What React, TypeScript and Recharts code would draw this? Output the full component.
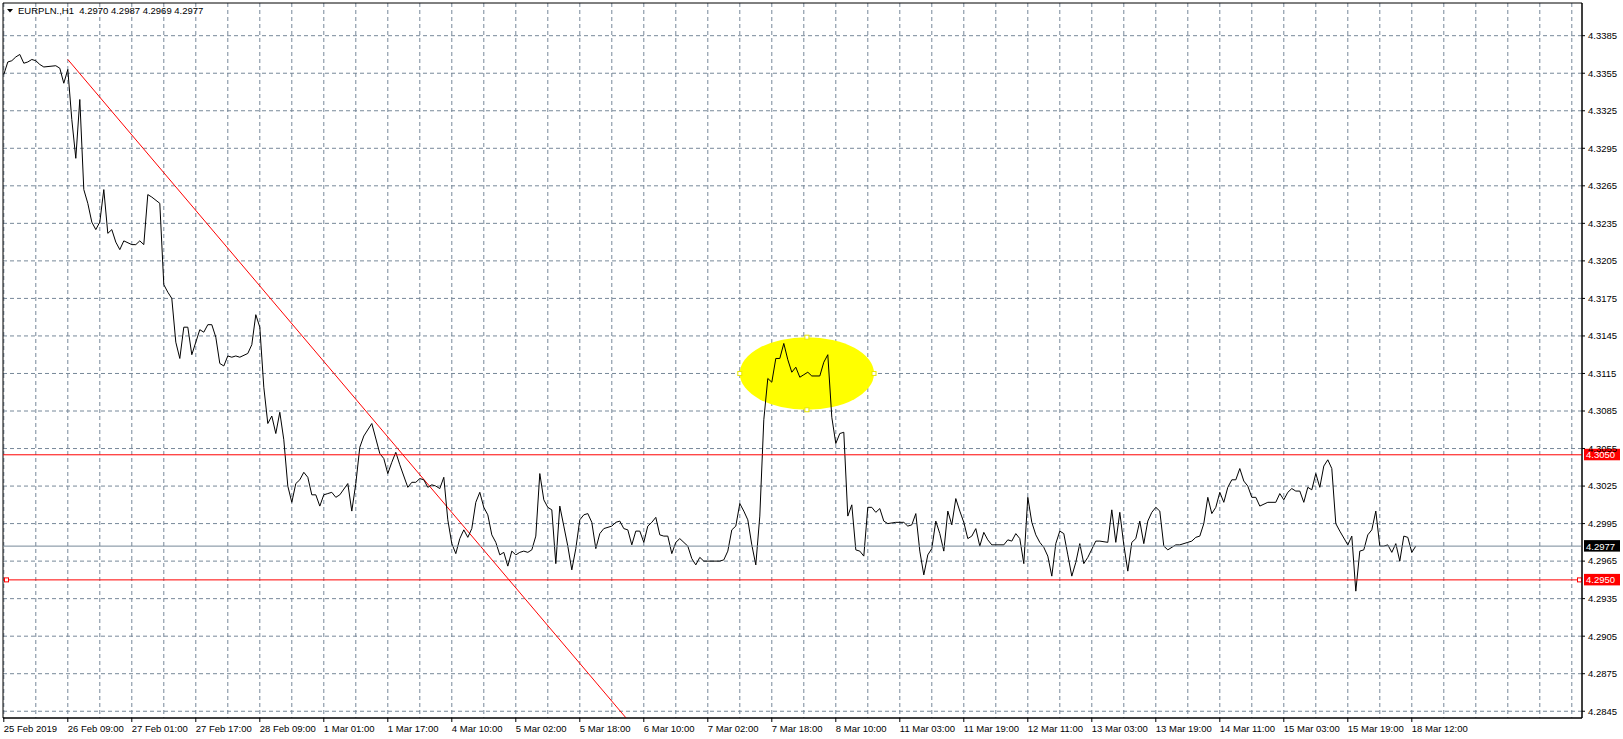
import {
  CartesianGrid,
  Line,
  LineChart,
  ReferenceArea,
  ReferenceLine,
  XAxis,
  YAxis,
} from "recharts";

const FONT = "'Liberation Sans', Arial, sans-serif";

const title = "EURPLN.,H1  4.2970 4.2987 4.2969 4.2977";

// bar index (H1 bars from 25 Feb 17:00) and close price at each vertex of the line
const bars = [
  0, 1, 2, 3, 4, 5, 6, 7, 8, 9, 10, 13, 14, 15, 16, 17, 18, 19, 20, 21,
  22, 23, 24, 25, 26, 27, 28, 29, 30, 32, 33, 34, 35, 36, 37, 39, 40, 41, 42, 43,
  44, 45, 46, 47, 49, 50, 51, 52, 53, 54, 55, 56, 57, 58, 59, 61, 62, 63, 64, 65,
  66, 67, 68, 69, 70, 71, 72, 73, 74, 75, 76, 77, 78, 79, 80, 81, 82, 83, 84, 86,
  87, 88, 89, 90, 92, 94, 95, 96, 97, 98, 99, 101, 102, 103, 104, 105, 106, 107, 108, 109,
  110, 111, 112, 113, 114, 115, 116, 117, 118, 119, 120, 121, 122, 123, 124, 125, 126, 127, 128, 129,
  130, 131, 132, 133, 134, 135, 136, 137, 138, 139, 140, 141, 142, 143, 144, 145, 146, 147, 148, 149,
  150, 152, 153, 154, 155, 156, 157, 158, 159, 160, 161, 162, 163, 164, 165, 166, 167, 168, 169, 171,
  172, 173, 174, 175, 179, 180, 181, 182, 183, 184, 185, 186, 187, 188, 189, 190, 191, 192, 193, 194,
  195, 196, 197, 198, 199, 200, 201, 202, 204, 205, 206, 207, 208, 209, 210, 211, 212, 213, 214, 215,
  216, 217, 218, 219, 220, 221, 223, 225, 226, 227, 228, 229, 230, 231, 232, 233, 234, 235, 236, 237,
  238, 239, 240, 241, 242, 243, 244, 245, 246, 247, 250, 251, 252, 253, 254, 255, 256, 257, 258, 259,
  260, 261, 262, 263, 264, 265, 266, 267, 268, 269, 270, 271, 273, 274, 276, 277, 278, 279, 280, 281,
  282, 283, 284, 285, 286, 287, 288, 289, 290, 291, 293, 294, 296, 297, 298, 299, 300, 301, 302, 303,
  304, 305, 306, 307, 308, 309, 310, 311, 312, 313, 314, 316, 318, 319, 320, 321, 322, 323, 324, 325,
  326, 327, 328, 329, 330, 331, 332, 333, 334, 336, 337, 338, 339, 340, 341, 342, 343, 344, 345, 346,
  347, 348, 349, 350, 351, 352, 353,
];

const closes = [
  4.3354, 4.3364, 4.3365, 4.3368, 4.337, 4.3363, 4.3364, 4.3366, 4.3365, 4.3362, 4.336, 4.3361, 4.3359, 4.3347, 4.3358, 4.3318, 4.3287, 4.3334, 4.3262, 4.3251,
  4.3236, 4.323, 4.3236, 4.3262, 4.3227, 4.323, 4.322, 4.3214, 4.3221, 4.3218, 4.3218, 4.3221, 4.3218, 4.3258, 4.3256, 4.3251, 4.3186, 4.318, 4.3175, 4.314,
  4.3127, 4.3152, 4.3152, 4.313, 4.315, 4.3148, 4.3154, 4.3154, 4.3144, 4.3123, 4.3121, 4.3129, 4.3128, 4.3129, 4.3128, 4.3131, 4.3138, 4.3162, 4.3152, 4.3104,
  4.3075, 4.3081, 4.3067, 4.3084, 4.3062, 4.3025, 4.3012, 4.3027, 4.303, 4.3036, 4.3032, 4.3018, 4.3018, 4.3009, 4.3018, 4.3019, 4.302, 4.3016, 4.3018, 4.3027,
  4.3005, 4.3027, 4.3056, 4.3065, 4.3075, 4.3051, 4.3047, 4.3035, 4.3044, 4.3052, 4.3042, 4.3024, 4.3028, 4.3028, 4.3031, 4.303, 4.3024, 4.3026, 4.3025, 4.3023,
  4.3032, 4.2998, 4.2979, 4.2971, 4.2983, 4.299, 4.2984, 4.2991, 4.3012, 4.302, 4.3008, 4.3002, 4.2986, 4.298, 4.297, 4.2972, 4.2961, 4.2973, 4.297, 4.2972,
  4.2973, 4.2972, 4.2974, 4.2985, 4.3035, 4.3014, 4.3008, 4.3006, 4.2963, 4.3009, 4.2993, 4.2977, 4.2958, 4.2975, 4.2998, 4.3002, 4.3003, 4.2996, 4.2975, 4.2987,
  4.2991, 4.2993, 4.2996, 4.2997, 4.2991, 4.299, 4.2978, 4.2989, 4.2989, 4.298, 4.2993, 4.2996, 4.3, 4.2986, 4.2985, 4.2985, 4.2971, 4.298, 4.2983, 4.2977,
  4.2967, 4.2962, 4.2968, 4.2965, 4.2965, 4.2966, 4.2973, 4.299, 4.2993, 4.3011, 4.3005, 4.2998, 4.2978, 4.2962, 4.3001, 4.3078, 4.3111, 4.3108, 4.3127, 4.3127,
  4.3139, 4.3126, 4.3116, 4.312, 4.3112, 4.3114, 4.3116, 4.3113, 4.3113, 4.3124, 4.313, 4.308, 4.3059, 4.3067, 4.3068, 4.3001, 4.301, 4.2974, 4.2973, 4.2969,
  4.3008, 4.3008, 4.3004, 4.3007, 4.2997, 4.2995, 4.2996, 4.2996, 4.2993, 4.2994, 4.3003, 4.2973, 4.2954, 4.297, 4.2975, 4.2997, 4.2987, 4.2973, 4.3005, 4.2994,
  4.3015, 4.3005, 4.2996, 4.2983, 4.2985, 4.2991, 4.2977, 4.2988, 4.2982, 4.2978, 4.2978, 4.2982, 4.2981, 4.2987, 4.2983, 4.2963, 4.3016, 4.2996, 4.2986, 4.298,
  4.2976, 4.2969, 4.2953, 4.2979, 4.2989, 4.2987, 4.297, 4.2953, 4.2964, 4.2979, 4.2963, 4.2968, 4.2981, 4.2981, 4.298, 4.3006, 4.298, 4.3004, 4.2978, 4.2957,
  4.298, 4.2983, 4.2997, 4.2979, 4.2997, 4.3004, 4.3008, 4.3005, 4.2977, 4.2974, 4.2978, 4.2978, 4.298, 4.2981, 4.2984, 4.2985, 4.2995, 4.3016, 4.3003, 4.3008,
  4.302, 4.3012, 4.3024, 4.303, 4.303, 4.3039, 4.3029, 4.3025, 4.3016, 4.3016, 4.3009, 4.3012, 4.3012, 4.3019, 4.3014, 4.302, 4.3023, 4.3021, 4.3021, 4.3012,
  4.3024, 4.3022, 4.3035, 4.3024, 4.3041, 4.3046, 4.3039, 4.2995, 4.2989, 4.2978, 4.2985, 4.2941, 4.2973, 4.2974, 4.2986, 4.299, 4.3005, 4.2977, 4.2977, 4.2978,
  4.2972, 4.2979, 4.2965, 4.2985, 4.2984, 4.2972, 4.2977,
];

const xTickBars = [
  0, 16, 32, 48, 64, 80, 96, 112, 128, 144, 160, 176, 192, 208, 224, 240, 256, 272, 288, 304, 320, 336, 352,
];
const xTickLabels = [
  "25 Feb 2019", "26 Feb 09:00", "27 Feb 01:00", "27 Feb 17:00", "28 Feb 09:00", "1 Mar 01:00",
  "1 Mar 17:00", "4 Mar 10:00", "5 Mar 02:00", "5 Mar 18:00", "6 Mar 10:00", "7 Mar 02:00",
  "7 Mar 18:00", "8 Mar 10:00", "11 Mar 03:00", "11 Mar 19:00", "12 Mar 11:00", "13 Mar 03:00",
  "13 Mar 19:00", "14 Mar 11:00", "15 Mar 03:00", "15 Mar 19:00", "18 Mar 12:00",
];
const gridBars = [
  0, 8, 16, 24, 32, 40, 48, 56, 64, 72, 80, 88, 96, 104, 112, 120, 128, 136, 144, 152, 160, 168, 176, 184, 192,
  200, 208, 216, 224, 232, 240, 248, 256, 264, 272, 280, 288, 296, 304, 312, 320, 328, 336, 344, 352, 360, 368,
  376, 384, 392,
];
const priceTicks = [
  4.2845, 4.2875, 4.2905, 4.2935, 4.2965, 4.2995, 4.3025, 4.3055, 4.3085, 4.3115, 4.3145, 4.3175, 4.3205,
  4.3235, 4.3265, 4.3295, 4.3325, 4.3355, 4.3385,
];

const xDomain = [-0.2, 394.55];
const yDomain = [4.28396, 4.341114];

const levelHigh = 4.305;
const levelLow = 4.295;
const lastPrice = 4.2977;
const trend = [
  { bar: 16, price: 4.3366 },
  { bar: 156, price: 4.2838 },
];
const highlight = { bar1: 184, bar2: 217.55, low: 4.3086, high: 4.3144 };

const data = bars.map((b, i) => ({ bar: b, close: closes[i] }));

function TimeTick(props: any) {
  const { x, y, payload } = props;
  const i = xTickBars.indexOf(payload.value);
  return (
    <text x={x} y={y + 8} fontSize={9.5} fontFamily={FONT} fill="#000">
      {xTickLabels[i]}
    </text>
  );
}

const priceTag =
  (value: number, bg: string, handles = false) =>
  (props: any) => {
    const { x, y, width } = props.viewBox;
    const right = x + width;
    return (
      <g>
        {handles && (
          <>
            <rect x={x + 1.5} y={y - 2} width={4} height={4} fill="#fff" stroke="#f00" />
            <rect x={right - 4.5} y={y - 2} width={4} height={4} fill="#fff" stroke="#f00" />
          </>
        )}
        <rect x={right + 2} y={y - 6} width={36} height={11.5} fill={bg} />
        <text x={right + 4} y={y} dy="0.36em" fontSize={9.5} fontFamily={FONT} fill="#fff">
          {value.toFixed(4)}
        </text>
      </g>
    );
  };

const ellipseShape = (p: any) => {
  const cx = p.x + p.width / 2;
  const cy = p.y + p.height / 2;
  return (
    <g>
      <ellipse cx={cx} cy={cy} rx={p.width / 2} ry={p.height / 2} fill="#ffff00" />
      {[
        [cx, p.y],
        [cx, p.y + p.height],
        [p.x, cy],
        [p.x + p.width, cy],
      ].map(([hx, hy], i) => (
        <rect key={i} x={hx - 2} y={hy - 2} width={4} height={4} fill="#fff" stroke="#e8e800" />
      ))}
    </g>
  );
};

export default function App() {
  return (
    <div style={{ position: "absolute", left: 0, top: 0, width: 1623, height: 739, background: "#fff" }}>
      <LineChart width={1623} height={739} data={data} margin={{ top: 3, right: 0, left: 3, bottom: 0 }}>
        <CartesianGrid
          stroke="#778899"
          strokeDasharray="4 3"
          verticalValues={gridBars}
          horizontalValues={priceTicks}
        />
        <XAxis
          dataKey="bar"
          type="number"
          domain={xDomain}
          ticks={xTickBars}
          interval={0}
          allowDataOverflow
          height={21}
          tickSize={4}
          tickMargin={2}
          axisLine={{ stroke: "#000" }}
          tickLine={{ stroke: "#000" }}
          tick={<TimeTick />}
        />
        <YAxis
          orientation="right"
          type="number"
          domain={yDomain}
          ticks={priceTicks}
          interval={0}
          allowDataOverflow
          width={41}
          tickSize={3}
          tickMargin={3}
          axisLine={{ stroke: "#000" }}
          tickLine={{ stroke: "#000" }}
          tick={{ fontSize: 9.5, fill: "#000", fontFamily: FONT }}
          tickFormatter={(v: number) => v.toFixed(4)}
        />
        <ReferenceArea
          x1={xDomain[0]}
          x2={xDomain[1]}
          y1={yDomain[0]}
          y2={yDomain[1]}
          fill="none"
          stroke="#000"
          fillOpacity={0}
        />
        <ReferenceArea
          x1={highlight.bar1}
          x2={highlight.bar2}
          y1={highlight.low}
          y2={highlight.high}
          shape={ellipseShape}
        />
        <ReferenceLine
          segment={[
            { x: trend[0].bar, y: trend[0].price },
            { x: trend[1].bar, y: trend[1].price },
          ]}
          stroke="#ff0000"
          ifOverflow="hidden"
        />
        <Line
          type="linear"
          dataKey="close"
          stroke="#000"
          strokeWidth={1}
          dot={false}
          isAnimationActive={false}
        />
        <ReferenceLine y={lastPrice} stroke="#778899" label={priceTag(lastPrice, "#000")} />
        <ReferenceLine y={levelHigh} stroke="#ff0000" label={priceTag(levelHigh, "#ff0000")} />
        <ReferenceLine y={levelLow} stroke="#ff0000" label={priceTag(levelLow, "#ff0000", true)} />
      </LineChart>
      <svg
        width={300}
        height={20}
        style={{ position: "absolute", left: 0, top: 0, pointerEvents: "none" }}
      >
        <polygon points="7,9 13,9 10,12.5" fill="#000" />
        <text x={18} y={14} fontSize={9.5} fontFamily={FONT} fill="#000" style={{ whiteSpace: "pre" }}>
          {title}
        </text>
      </svg>
    </div>
  );
}
